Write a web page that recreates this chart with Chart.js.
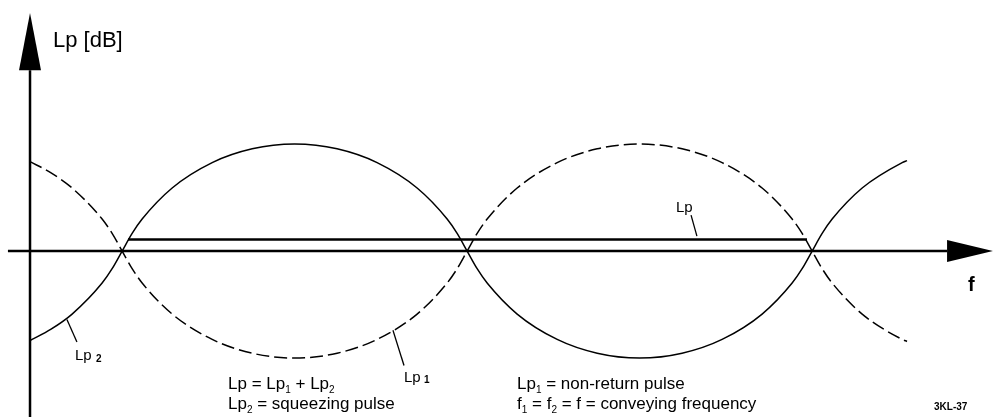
<!DOCTYPE html>
<html>
<head>
<meta charset="utf-8">
<script src="https://cdn.jsdelivr.net/npm/chart.js@4.4.0/dist/chart.umd.min.js"></script>
<style>
  html, body { margin: 0; padding: 0; background: #fff; }
  #wrap { width: 995px; height: 417px; }
</style>
</head>
<body>
<div id="wrap"><canvas id="lpChart" width="995" height="417"></canvas></div>
<script>
// f: 0 = Lp axis, one unit = spacing between crossings; Lp in relative dB
const solidF = [0, 0.061, 0.122, 0.209, 0.238, 0.267,
  0.296, 0.325, 0.412, 0.528, 0.644, 0.767, 0.890, 1.006, 1.122, 1.209, 1.238, 1.267,
  1.296, 1.325, 1.412, 1.528, 1.644, 1.767, 1.890, 2.006, 2.122, 2.209, 2.238, 2.267,
  2.296, 2.325, 2.412, 2.528, 2.542];
const solidLp = [-8.36, -7.30, -5.89, -2.99, -1.65, 0,
  1.65, 2.99, 5.89, 8.26, 9.55, 10, 9.55, 8.26, 5.89, 2.99, 1.65, 0,
  -1.65, -2.99, -5.89, -8.26, -9.55, -10, -9.55, -8.26, -5.89, -2.99, -1.65, 0,
  1.65, 2.99, 5.89, 8.26, 8.45];
const dashedF = solidF.slice();
const dashedLp = [8.36, 7.30, 5.89, 2.99, 1.65, 0,
  -1.65, -2.99, -5.89, -8.26, -9.55, -10, -9.55, -8.26, -5.89, -2.99, -1.65, 0,
  1.65, 2.99, 5.89, 8.26, 9.55, 10, 9.55, 8.26, 5.89, 2.99, 1.65, 0,
  -1.65, -2.99, -5.89, -8.26, -8.45];
const sumF = [0.284, 2.252];
const sumLp = [1.07, 1.07];

// axis extents (data units)
const fAxisStart = -0.064, fAxisArrow = 2.658, fAxisTip = 2.791;
const lpAxisBottom = -15.6, lpAxisArrow = 16.9, lpAxisTip = 22.24;

function toPoints(xs, ys) {
  return xs.map(function (x, i) { return { x: x, y: ys[i] }; });
}

// text with subscripts: parts beginning with "_" are subscripts
function rich(ctx, parts, x, y, size, family) {
  let cx = x;
  parts.forEach(function (p) {
    if (p.charAt(0) === "_") {
      ctx.font = Math.round(size * 0.6) + "px " + family;
      ctx.fillText(p.slice(1), cx, y + size * 0.22);
      cx += ctx.measureText(p.slice(1)).width;
    } else {
      ctx.font = size + "px " + family;
      ctx.fillText(p, cx, y);
      cx += ctx.measureText(p).width;
    }
  });
}

const drawExtras = {
  id: "drawExtras",
  afterDatasetsDraw(chart) {
    const ctx = chart.ctx;
    const xs = chart.scales.x, ys = chart.scales.y;
    const X = function (v) { return xs.getPixelForValue(v); };
    const Y = function (v) { return ys.getPixelForValue(v); };
    ctx.save();
    ctx.strokeStyle = "#000";
    ctx.fillStyle = "#000";

    // f axis
    ctx.lineWidth = 2.5;
    ctx.beginPath();
    ctx.moveTo(X(fAxisStart), Y(0));
    ctx.lineTo(X(fAxisArrow), Y(0));
    ctx.stroke();
    ctx.beginPath();
    ctx.moveTo(X(fAxisArrow), Y(0) - 11);
    ctx.lineTo(X(fAxisTip), Y(0));
    ctx.lineTo(X(fAxisArrow), Y(0) + 11);
    ctx.closePath();
    ctx.fill();

    // Lp axis
    ctx.beginPath();
    ctx.moveTo(X(0), Y(lpAxisBottom));
    ctx.lineTo(X(0), Y(lpAxisArrow));
    ctx.stroke();
    ctx.beginPath();
    ctx.moveTo(X(0) - 11, Y(lpAxisArrow));
    ctx.lineTo(X(0), Y(lpAxisTip));
    ctx.lineTo(X(0) + 11, Y(lpAxisArrow));
    ctx.closePath();
    ctx.fill();

    // leader lines
    ctx.lineWidth = 1.3;
    [[1.916, 3.36, 1.933, 1.40],
     [0.107, -6.4, 0.136, -8.5],
     [1.052, -7.4, 1.084, -10.7]].forEach(function (l) {
      ctx.beginPath();
      ctx.moveTo(X(l[0]), Y(l[1]));
      ctx.lineTo(X(l[2]), Y(l[3]));
      ctx.stroke();
    });

    const sans = "'Liberation Sans', Arial, sans-serif";
    ctx.textBaseline = "alphabetic";
    ctx.textAlign = "left";

    ctx.font = "22px " + sans;
    ctx.fillText("Lp [dB]", 53, 47);
    ctx.font = "bold 20px " + sans;
    ctx.fillText("f", 968, 291);

    // curve labels
    ctx.font = "15px " + sans;
    ctx.fillText("Lp", 676, 212);
    ctx.fillText("Lp", 75, 360);
    ctx.fillText("Lp", 404, 382);
    ctx.font = "bold 10px " + sans;
    ctx.fillText("2", 96, 362);
    ctx.fillText("1", 424, 383);

    // legend text
    rich(ctx, ["Lp = Lp", "_1", " + Lp", "_2"], 228, 389, 17, sans);
    rich(ctx, ["Lp", "_2", " = squeezing pulse"], 228, 409, 17, sans);
    rich(ctx, ["Lp", "_1", " = non-return pulse"], 517, 389, 17, sans);
    rich(ctx, ["f", "_1", " = f", "_2", " = f = conveying frequency"], 517, 409, 17, sans);

    ctx.font = "bold 10px " + sans;
    ctx.fillText("3KL-37", 934, 410);
    ctx.restore();
  }
};

new Chart(document.getElementById("lpChart"), {
  type: "line",
  data: {
    datasets: [
      {
        label: "Lp",
        data: toPoints(sumF, sumLp),
        borderColor: "#000",
        borderWidth: 2.5,
        pointRadius: 0,
        fill: false
      },
      {
        label: "solid",
        data: toPoints(solidF, solidLp),
        borderColor: "#000",
        borderWidth: 1.5,
        pointRadius: 0,
        cubicInterpolationMode: "monotone",
        fill: false
      },
      {
        label: "dashed",
        data: toPoints(dashedF, dashedLp),
        borderColor: "#000",
        borderWidth: 1.5,
        borderDash: [13, 5],
        pointRadius: 0,
        cubicInterpolationMode: "monotone",
        fill: false
      }
    ]
  },
  options: {
    responsive: false,
    animation: false,
    layout: { padding: 0 },
    plugins: { legend: { display: false }, tooltip: { enabled: false } },
    scales: {
      x: { type: "linear", min: -0.087, max: 2.797, display: false },
      y: { min: -15.51, max: 23.46, display: false }
    }
  },
  plugins: [drawExtras]
});
</script>
</body>
</html>
